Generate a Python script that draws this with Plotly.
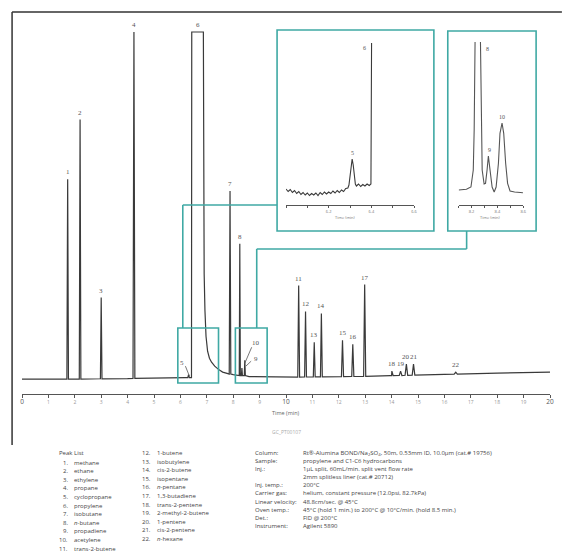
import plotly.graph_objects as go

# ---------------- data ----------------
# main chromatogram: peaks drawn as narrow points (value = signal above plot baseline, arbitrary units)
peak_ids = ["1", "2", "3", "4", "5", "7", "8", "9", "10", "11", "12", "13", "14",
            "15", "16", "17", "18", "19", "20", "21", "22"]
peak_times = [1.73, 2.20, 3.00, 4.24, 6.31, 7.88, 8.25, 8.33, 8.44, 10.48, 10.74, 11.07,
              11.34, 12.14, 12.53, 12.98, 14.01, 14.34, 14.56, 14.83, 16.43]
peak_tops = [200, 260, 81, 348, 3.5, 188, 135, 10, 18, 93, 67, 36, 65, 38, 34, 94,
             7, 7, 14, 14, 6]
peak_bases = [-1, -1, -0.7, -0.3, 0.5, 4, 2.5, 2.5, 2.5, 1, 1.1, 1.2, 1.3, 1.5, 1.6,
              1.8, 2.5, 2.6, 2.8, 3.0, 4.0]
peak_halfwidths = [0.03, 0.03, 0.03, 0.035, 0.03, 0.03, 0.02, 0.02, 0.02, 0.035, 0.035,
                   0.035, 0.035, 0.04, 0.04, 0.04, 0.05, 0.05, 0.05, 0.05, 0.06]
# baseline anchor points
base_t = [0, 1.5, 4.0, 6.2, 8.6, 10, 12, 14, 16, 18, 20]
base_v = [-1, -1, -0.5, 0.5, 1.5, 1, 1.5, 2.5, 4, 5, 6]
# peak 6 (propylene, saturated) with its tail
p6_t = [6.42, 6.43, 6.87, 6.875, 6.90, 6.93, 6.97, 7.03, 7.10, 7.18, 7.30, 7.43,
        7.60, 7.80, 8.00, 8.19]
p6_v = [0.5, 348, 348, 170, 105, 68, 42, 27, 20, 16, 12, 9, 6, 4.5, 3.5, 3]

# inset 1 (peaks 5 / 6)
in1_t = [6.00, 6.01, 6.02, 6.03, 6.04, 6.05, 6.06, 6.07, 6.08, 6.09, 6.10, 6.11, 6.12,
         6.13, 6.14, 6.15, 6.16, 6.17, 6.18, 6.19, 6.20, 6.21, 6.22, 6.23, 6.24, 6.25,
         6.26, 6.27, 6.28, 6.29, 6.295, 6.30, 6.305, 6.31, 6.315, 6.32, 6.325, 6.33,
         6.34, 6.35, 6.36, 6.37, 6.38, 6.39, 6.398, 6.401]
in1_v = [16, 13.5, 15.5, 12.5, 14.5, 11.5, 13.5, 10.5, 12.5, 10, 12, 9.5, 11.5, 10,
         12, 9.5, 12.5, 10.5, 13, 11, 13, 11.5, 14, 12, 14.5, 12.5, 15, 13.5, 16.5,
         17, 20, 28, 38, 46, 40, 28, 21, 19, 21, 18.5, 20.5, 19, 21, 19.5, 21, 162]
# inset 2 (peaks 8 / 9 / 10)
in2_t = [8.10, 8.16, 8.195, 8.213, 8.22, 8.226, 8.247, 8.268, 8.275, 8.282, 8.297,
         8.308, 8.32, 8.33, 8.343, 8.359, 8.375, 8.39, 8.408, 8.42, 8.436, 8.449,
         8.464, 8.479, 8.498, 8.533, 8.598]
in2_v = [15, 15.7, 18, 35, 75, 170, 420, 170, 75, 35, 21, 21.7, 35, 49, 35, 18, 13,
         18, 41.7, 71.7, 82, 71.7, 41.7, 21.7, 14, 13, 12.3]

main_ticks = list(range(0, 21))
in1_ticks = [6.2, 6.4, 6.6]
in2_ticks = [8.2, 8.4, 8.6]

peak_names = ["methane", "ethane", "ethylene", "propane", "cyclopropane", "propylene",
              "isobutane", "<i>n</i>-butane", "propadiene", "acetylene", "trans-2-butene",
              "1-butene", "isobutylene", "cis-2-butene", "isopentane", "<i>n</i>-pentane",
              "1,3-butadiene", "trans-2-pentene", "2-methyl-2-butene", "1-pentene",
              "cis-2-pentene", "<i>n</i>-hexane"]
cond_labels = ["Column:", "Sample:", "Inj.:", "", "Inj. temp.:", "Carrier gas:",
               "Linear velocity:", "Oven temp.:", "Det.:", "Instrument:"]
cond_values = ["Rt®-Alumina BOND/Na<sub>2</sub>SO<sub>4</sub>, 50m, 0.53mm ID, 10.0µm (cat.# 19756)",
               "propylene and C1-C6 hydrocarbons",
               "1µL split, 60mL/min. split vent flow rate",
               "2mm splitless liner (cat.# 20712)",
               "200°C",
               "helium, constant pressure (12.0psi, 82.7kPa)",
               "48.8cm/sec. @ 45°C",
               "45°C (hold 1 min.) to 200°C @ 10°C/min. (hold 8.5 min.)",
               "FID @ 200°C",
               "Agilent 5890"]

# ---------------- geometry helpers ----------------
W, H = 564, 557
L, R, T, B = 22, 10, 30, 163
PW = W - L - R
PH = H - T - B


def px(x):
    return (x - L) / PW


def py(y):
    return (H - B - y) / PH


TEAL = "#3fa9a4"
INK = "#3a3a3a"
FONT = "Open Sans"

# build main trace point list
pts = []
for t, v in zip(base_t, base_v):
    if not (6.25 < t < 8.6):
        pts.append((t, v))
for t, top, b, w in zip(peak_times, peak_tops, peak_bases, peak_halfwidths):
    pts += [(t - w, b), (t, top), (t + w, b)]
pts += list(zip(p6_t, p6_v))
pts.sort(key=lambda p: p[0])
main_t = [p[0] for p in pts]
main_v = [p[1] for p in pts]

fig = go.Figure()
fig.add_trace(go.Scatter(x=main_t, y=main_v, mode="lines", xaxis="x", yaxis="y",
                         line=dict(color=INK, width=1.2), hoverinfo="skip"))
fig.add_trace(go.Scatter(x=in1_t, y=in1_v, mode="lines", xaxis="x2", yaxis="y2",
                         line=dict(color=INK, width=1.1), hoverinfo="skip"))
fig.add_trace(go.Scatter(x=in2_t, y=in2_v, mode="lines", xaxis="x3", yaxis="y3",
                         line=dict(color="#555", width=1.1), hoverinfo="skip"))

main_ticktext = []
for v in main_ticks:
    if v % 10 == 0:
        main_ticktext.append(f"<span style='font-size:6.5px;fill:#555'>{v}</span>")
    else:
        main_ticktext.append(str(v))

inset_axis = dict(showgrid=False, zeroline=False, showline=True, linecolor="#555",
                  linewidth=1, ticks="outside", ticklen=2, tickcolor="#555",
                  tickfont=dict(size=4, color="#777", family=FONT))

fig.update_layout(
    width=W, height=H,
    margin=dict(l=L, r=R, t=T, b=B),
    paper_bgcolor="white", plot_bgcolor="white",
    showlegend=False,
    xaxis=dict(domain=[0, 1], range=[0, 20], anchor="y", showgrid=False, zeroline=False,
               showline=True, linecolor="#555", linewidth=1, ticks="outside", ticklen=3,
               tickcolor="#555", tickvals=main_ticks, ticktext=main_ticktext,
               tickfont=dict(size=5, color="#999", family=FONT)),
    yaxis=dict(domain=[0, 1], range=[-16, 350], visible=False, anchor="x"),
    xaxis2=dict(domain=[px(288), px(417)], range=[6.0, 6.6], anchor="y2",
                tickvals=in1_ticks,
                minor=dict(ticks="outside", ticklen=2, tickcolor="#555", tick0=6.0, dtick=0.1),
                **inset_axis),
    yaxis2=dict(domain=[py(205), py(40)], range=[0, 165], visible=False, anchor="x2"),
    xaxis3=dict(domain=[px(462), px(527)], range=[8.1, 8.6], anchor="y3",
                tickvals=in2_ticks,
                minor=dict(ticks="outside", ticklen=2, tickcolor="#555", tick0=8.1, dtick=0.1),
                **inset_axis),
    yaxis3=dict(domain=[py(205), py(42)], range=[0, 163], visible=False, anchor="x3"),
)

shapes = []


def pline(x0, y0, x1, y1, color=TEAL, width=1.6):
    shapes.append(dict(type="line", xref="paper", yref="paper", x0=px(x0), y0=py(y0),
                       x1=px(x1), y1=py(y1), line=dict(color=color, width=width)))


def prect(x0, y0, x1, y1, color=TEAL, width=1.6):
    shapes.append(dict(type="rect", xref="paper", yref="paper", x0=px(x0), y0=py(y0),
                       x1=px(x1), y1=py(y1), line=dict(color=color, width=width)))


# outer frame
pline(12, 12, 566, 12, color="#333", width=1.5)
pline(12, 12, 12, 445, color="#333", width=1.5)
# inset frames and zoom boxes
prect(279, 30, 437, 231)
prect(451, 31, 540, 231)
prect(179, 328, 220, 383)
prect(237, 328, 269, 383)
# connectors
pline(184, 328, 184, 205)
pline(184, 205, 279, 205)
pline(258.5, 328, 258.5, 249)
pline(258.5, 249, 470, 249)
pline(470, 249, 470, 231)

# leader lines for small peaks (data coordinates of main plot)
for (t0, v0, t1, v1) in [(6.19, 12, 6.34, 2), (8.70, 31, 8.44, 15), (8.68, 17, 8.48, 12)]:
    shapes.append(dict(type="line", xref="x", yref="y", x0=t0, y0=v0, x1=t1, y1=v1,
                       line=dict(color="#555", width=0.8)))

fig.update_layout(shapes=shapes)

ann = []
LBL = dict(family="Liberation Serif", size=7, color="#555")
for pid, t, top in zip(peak_ids, peak_times, peak_tops):
    if pid in ("5", "9", "10"):
        continue
    ann.append(dict(x=t, y=top + 1, xref="x", yref="y", text=pid, showarrow=False,
                    xanchor="center", yanchor="bottom", font=LBL))
ann.append(dict(x=6.65, y=349, xref="x", yref="y", text="6", showarrow=False,
                xanchor="center", yanchor="bottom", font=LBL))
ann.append(dict(x=6.05, y=15, xref="x", yref="y", text="5", showarrow=False,
                xanchor="center", yanchor="middle", font=LBL))
ann.append(dict(x=8.88, y=35, xref="x", yref="y", text="10", showarrow=False,
                xanchor="center", yanchor="middle", font=LBL))
ann.append(dict(x=8.88, y=19, xref="x", yref="y", text="9", showarrow=False,
                xanchor="center", yanchor="middle", font=LBL))

# inset labels
SMALL = dict(family="Liberation Serif", size=6, color="#555")
for x, y, t in [(355, 153, "5"), (367, 48, "6"), (491, 49, "8"), (493, 150, "9"),
                (506, 117, "10")]:
    ann.append(dict(x=px(x), y=py(y), xref="paper", yref="paper", text=t,
                    showarrow=False, xanchor="center", yanchor="middle", font=SMALL))
for x in (348, 494):
    ann.append(dict(x=px(x), y=py(218), xref="paper", yref="paper", text="Time (min)",
                    showarrow=False, xanchor="center", yanchor="middle",
                    font=dict(family=FONT, size=4, color="#777")))

# main axis title and figure id
ann.append(dict(x=px(288), y=py(413), xref="paper", yref="paper", text="Time (min)",
                showarrow=False, xanchor="center", yanchor="middle",
                font=dict(family=FONT, size=5.5, color="#666")))
ann.append(dict(x=px(288), y=py(432), xref="paper", yref="paper", text="GC_PT00107",
                showarrow=False, xanchor="center", yanchor="middle",
                font=dict(family=FONT, size=5, color="#aaa")))

TXT = dict(family=FONT, size=6, color="#444")
# peak list
ann.append(dict(x=px(57), y=py(453), xref="paper", yref="paper", text="Peak List",
                showarrow=False, xanchor="left", yanchor="middle", font=TXT))
for i, name in enumerate(peak_names):
    n = i + 1
    if n <= 11:
        yy = 462.5 + i * 8.6
        xn, xt = 70, 72
    else:
        yy = 453 + (n - 12) * 8.6
        xn, xt = 154, 156
    ann.append(dict(x=px(xn), y=py(yy), xref="paper", yref="paper", text=f"{n}.",
                    showarrow=False, xanchor="right", yanchor="middle", font=TXT))
    ann.append(dict(x=px(xt), y=py(yy), xref="paper", yref="paper", text=name,
                    showarrow=False, xanchor="left", yanchor="middle", font=TXT))

# conditions
for i, (lab, val) in enumerate(zip(cond_labels, cond_values)):
    yy = 453 + i * 8.1
    if lab:
        ann.append(dict(x=px(255), y=py(yy), xref="paper", yref="paper", text=lab,
                        showarrow=False, xanchor="left", yanchor="middle", font=TXT))
    ann.append(dict(x=px(303), y=py(yy), xref="paper", yref="paper", text=val,
                    showarrow=False, xanchor="left", yanchor="middle", font=TXT))

fig.update_layout(annotations=ann)
fig.write_html("out.html", config={"displayModeBar": False},
               post_script="document.body.style.margin='0';document.body.style.overflow='hidden';")
